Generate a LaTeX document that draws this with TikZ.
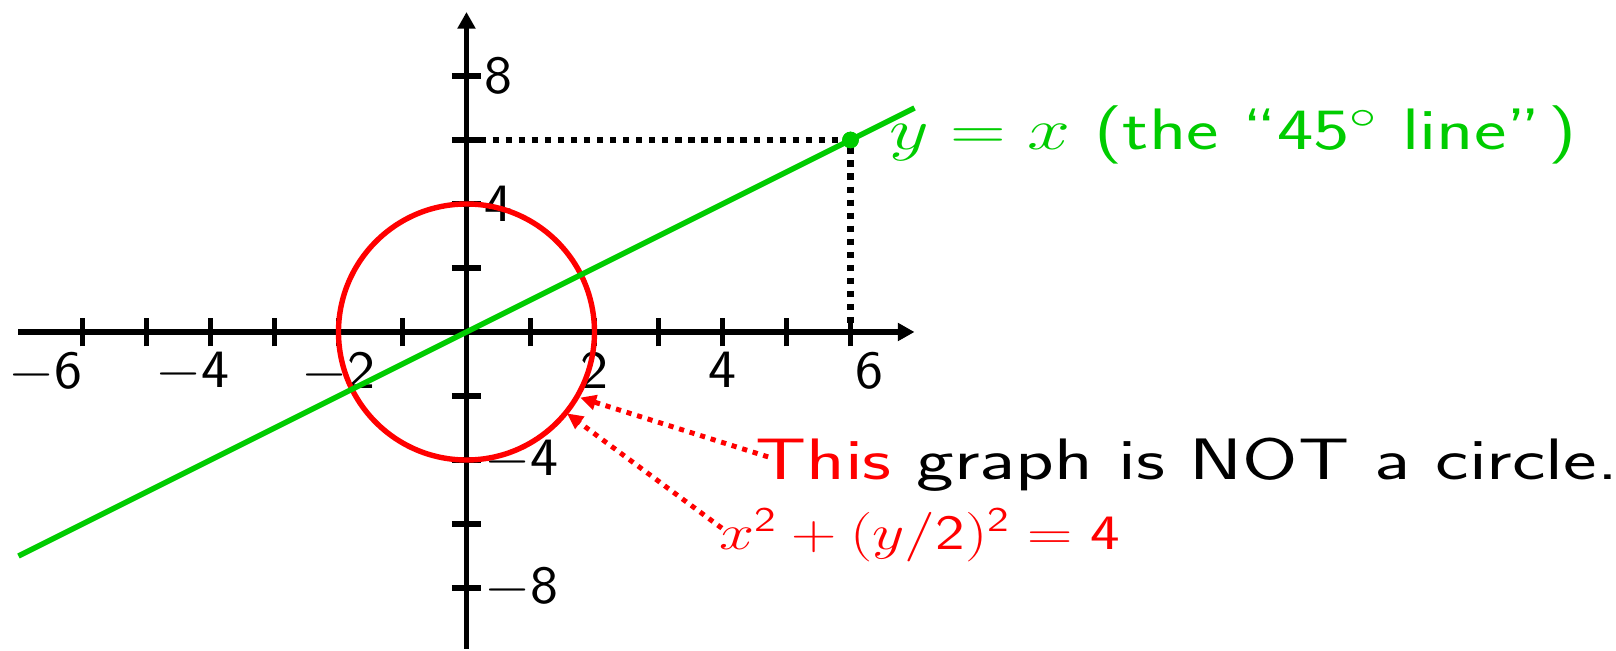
\RequirePackage{fix-cm}
\documentclass[tikz,border=0pt]{standalone}
\usepackage{amsmath}
\usepackage{graphicx}
\usepackage{tikz}
\usetikzlibrary{arrows.meta}
\definecolor{linegreen}{RGB}{0,204,0}
\newcommand{\sfnum}[1]{\text{\sffamily #1}}
\newcommand{\wide}[2]{\scalebox{#1}[1]{#2}}

\begin{document}
\begin{tikzpicture}[
  x=1cm, y=0.5cm,
  font=\sffamily,
  axis/.style={line width=2.4pt, -{Triangle[length=2.6mm,width=2.7mm]}},
  tick/.style={line width=2.4pt},
  ticklabel/.style={inner sep=0pt, font=\sffamily\fontsize{24}{28}\selectfont},
  biglabel/.style={inner sep=0pt, anchor=base west,
    font=\sffamily\fontsize{26}{31}\selectfont},
  curve/.style={line width=2.4pt},
  guide/.style={line width=2.8pt, dash pattern=on 2.8pt off 3pt},
  pointer/.style={red, line width=2.2pt, dash pattern=on 2.3pt off 2.6pt,
    -{Triangle[length=2.5mm,width=2.3mm]}}
]
\useasboundingbox (-7.289,-9.938) rectangle (17.961,10.375);

% axes and ticks
\draw[axis] (-7,0) -- (7,0);
\draw[axis] (0,-9.9) -- (0,10);
\foreach \x in {-6,...,-1,1,2,...,6}
  \draw[tick] (\x,-0.45) -- (\x,0.45);
\foreach \y in {-8,-6,-4,-2,2,4,6,8}
  \draw[tick] (-0.23,\y) -- (0.23,\y);

\node[ticklabel, anchor=north] (xlm6) at (-6.58,-0.62) {\wide{1.1}{$-$6}};
\node[ticklabel, anchor=north] (xlm4) at (-4.28,-0.62) {\wide{1.1}{$-$4}};
\node[ticklabel, anchor=north] (xlm2) at (-2.0,-0.62) {\wide{1.1}{$-$2}};
\node[ticklabel, anchor=north] (xl2) at (2.0,-0.62) {\wide{1.1}{2}};
\node[ticklabel, anchor=north] (xl4) at (4.0,-0.62) {\wide{1.1}{4}};
\node[ticklabel, anchor=north] (xl6) at (6.29,-0.62) {\wide{1.1}{6}};
\node[ticklabel, anchor=west] (yl8) at (0.27,8) {\wide{1.1}{8}};
\node[ticklabel, anchor=west] (yl4) at (0.27,4) {\wide{1.1}{4}};
\node[ticklabel, anchor=west] (ylm4) at (0.27,-4) {\wide{1.1}{$-$4}};
\node[ticklabel, anchor=west] (ylm8) at (0.27,-8) {\wide{1.1}{$-$8}};

% the graph and the line
\draw[curve, red] (0,0) ellipse [x radius=2, y radius=4];
\draw[curve, linegreen] (-7,-7) -- (7,7);
\node[circle, fill=linegreen, inner sep=0pt, minimum size=2.6mm] (pt) at (6,6) {};
\draw[guide] (0,6) -- (pt.center) -- (6,0);
\node[circle, fill=linegreen, inner sep=0pt, minimum size=2.6mm] (ptdot) at (pt) {};

% labels
\node[biglabel, text=linegreen] (linelabel) at (6.6,5.69)
  {\wide{1.32}{$y=x$ (the ``45$^\circ$ line''\hspace{0.1em})}};
\node[biglabel] (notcircle) at (4.503,-4.603)
  {\wide{1.367}{\textcolor{red}{This} graph is NOT a circle.}};
\node[biglabel, text=red, font=\sffamily\fontsize{22}{26}\selectfont] (eqn)
  at (3.94,-6.81)
  {\wide{1.27}{$x^{\sfnum{2}}+(y/\sfnum{2})^{\sfnum{2}}=\sfnum{4}$}};

\coordinate (tipa) at (-30:2.05 and 4.1);
\coordinate (tipb) at (-39:2.02 and 4.04);
\draw[pointer] ([xshift=2.1mm,yshift=3.5mm]notcircle.base west) -- (tipa);
\draw[pointer] ([xshift=0.5mm,yshift=3.4mm]eqn.base west) -- (tipb);
\end{tikzpicture}
\end{document}
